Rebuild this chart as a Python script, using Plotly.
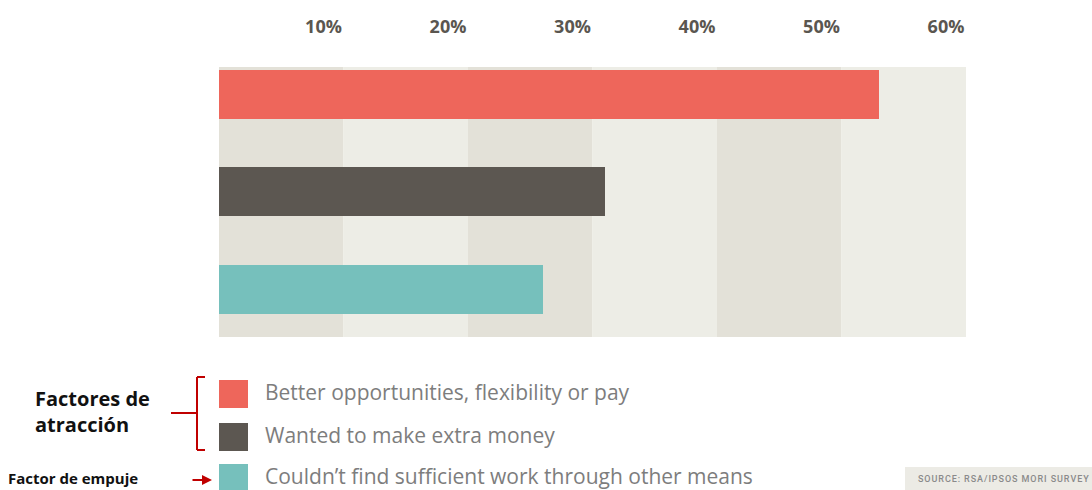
import plotly.graph_objects as go

# Survey answers (share of respondents, %)
categories = [
    "Better opportunities, flexibility or pay",
    "Wanted to make extra money",
    "Couldn't find sufficient work through other means",
]
values = [53, 31, 26]
colors = ["#ee665b", "#5c5751", "#76c0bc"]

tick_values = [10, 20, 30, 40, 50, 60]
tick_labels = ["10%", "20%", "30%", "40%", "50%", "60%"]

band_dark = "#e3e1d8"
band_light = "#edede6"

# plot area in page pixels
PLOT_L, PLOT_R, PLOT_T, PLOT_B = 219, 966, 67, 337


def px_x(x):
    return (x - PLOT_L) / (PLOT_R - PLOT_L)


def px_y(y):
    return (PLOT_B - y) / (PLOT_B - PLOT_T)


fig = go.Figure()

fig.add_trace(go.Bar(
    x=values,
    y=list(range(len(categories))),
    orientation="h",
    marker=dict(color=colors, line=dict(width=0)),
    width=0.5,
    hoverinfo="x",
    showlegend=False,
))

shapes = []
# alternating background bands, one per 10% step
edges = [0] + tick_values
for i in range(len(edges) - 1):
    shapes.append(dict(
        type="rect", xref="x", yref="paper",
        x0=edges[i], x1=edges[i + 1], y0=0, y1=1,
        fillcolor=band_dark if i % 2 == 0 else band_light,
        line=dict(width=0), layer="below",
    ))

annotations = []
# legend: colour squares with labels
legend_rows_y = [394, 437, 478]
for cat, col, yy in zip(categories, colors, legend_rows_y):
    shapes.append(dict(
        type="rect", xref="paper", yref="paper",
        x0=px_x(219), x1=px_x(248),
        y0=px_y(yy + 14), y1=px_y(yy - 14),
        fillcolor=col, line=dict(width=0),
    ))
    annotations.append(dict(
        xref="paper", yref="paper", x=px_x(263), y=px_y(yy - 2),
        xanchor="left", yanchor="middle", showarrow=False,
        text=cat.replace("'", "\u2019"),
        font=dict(family="Open Sans", size=21, color="#7d7d7d"),
    ))

# group labels on the left
red = "#c00000"
bracket = [
    ((205, 377), (197, 377)),
    ((197, 377), (197, 450)),
    ((197, 450), (205, 450)),
    ((197, 413), (171, 413)),
]
for (a, b) in bracket:
    shapes.append(dict(
        type="line", xref="paper", yref="paper",
        x0=px_x(a[0]), y0=px_y(a[1]), x1=px_x(b[0]), y1=px_y(b[1]),
        line=dict(color=red, width=2),
    ))

annotations.append(dict(
    xref="paper", yref="paper", x=px_x(33), y=px_y(411),
    xanchor="left", yanchor="middle", showarrow=False, align="left",
    text="<b>Factores de<br>atracción</b>",
    font=dict(family="Open Sans", size=20, color="#111111"),
))
annotations.append(dict(
    xref="paper", yref="paper", x=px_x(6), y=px_y(478),
    xanchor="left", yanchor="middle", showarrow=False,
    text="<b>Factor de empuje</b>",
    font=dict(family="Open Sans", size=15, color="#111111"),
))
annotations.append(dict(
    xref="paper", yref="paper", axref="pixel", ayref="pixel",
    x=px_x(212), y=px_y(480), ax=-21, ay=0,
    showarrow=True, arrowhead=2, arrowsize=1, arrowwidth=2,
    arrowcolor=red, text="",
))

# source box
shapes.append(dict(
    type="rect", xref="paper", yref="paper",
    x0=px_x(905), x1=px_x(1092), y0=px_y(490), y1=px_y(467),
    fillcolor="#ecebe5", line=dict(width=0),
))
annotations.append(dict(
    xref="paper", yref="paper", x=px_x(916), y=px_y(479),
    xanchor="left", yanchor="middle", showarrow=False,
    text="\u200a".join("SOURCE: RSA/IPSOS MORI SURVEY"),
    font=dict(family="Roboto", size=9, color="#8a8a8a", weight=500),
))

fig.update_layout(
    width=1092, height=490,
    margin=dict(l=PLOT_L, r=1092 - PLOT_R, t=PLOT_T, b=490 - PLOT_B),
    paper_bgcolor="white", plot_bgcolor="white",
    shapes=shapes, annotations=annotations,
    bargap=0,
    xaxis=dict(
        side="top", range=[0, 60], tickvals=tick_values, ticktext=tick_labels,
        showgrid=False, zeroline=False, showline=False, ticks="",
        tickfont=dict(family="Open Sans", size=18, color="#5a5650", weight="bold"),
        ticklabelshift=-20, ticklabelstandoff=29, fixedrange=True,
    ),
    yaxis=dict(
        range=[2.49, -0.28], showticklabels=False, showgrid=False,
        zeroline=False, showline=False, ticks="", fixedrange=True,
    ),
    showlegend=False,
)

fig.write_html("out.html")
